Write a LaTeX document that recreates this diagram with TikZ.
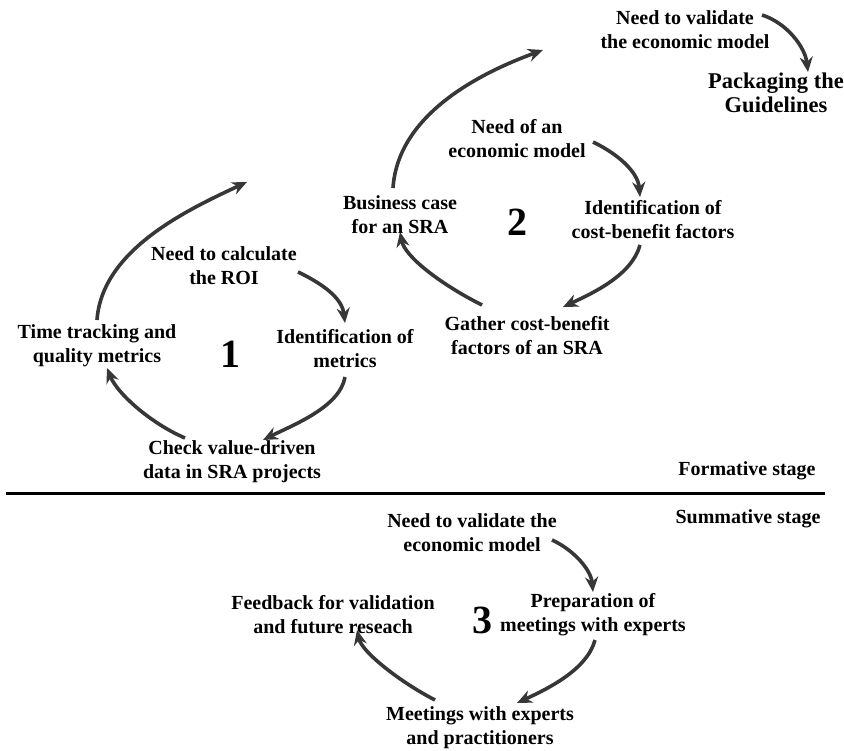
\documentclass[tikz,border=0pt]{standalone}
\usepackage{fontspec}
\setmainfont{Liberation Serif}
\usetikzlibrary{arrows.meta}
\definecolor{arrowgray}{RGB}{55,55,55}
\begin{document}
\begin{tikzpicture}[x=1pt,y=-1pt,
  lbl/.style={align=center,inner sep=0pt,font=\bfseries\fontsize{20}{24}\selectfont},
  biglbl/.style={align=center,inner sep=0pt,font=\bfseries\fontsize{22.5}{24}\selectfont},
  num/.style={inner sep=0pt,font=\bfseries\fontsize{40}{40}\selectfont},
  cyc/.style={draw=arrowgray,line width=3.6pt,-{Stealth[length=15pt,width=13pt]}}]
\useasboundingbox (0,0) rectangle (844,751);
% Cycle 1
\node[lbl] (n1a) at (224,266) {Need to calculate\\the ROI};
\node[lbl] (n1b) at (345,349) {Identification of\\metrics};
\node[lbl] (n1c) at (232,462) {Check value-driven\\data in SRA projects};
\node[lbl] (n1d) at (97,346) {Time tracking and\\quality metrics};
\node[num] (c1) at (230,354) {1};
\coordinate (a1s) at (298,272); \coordinate (a1e) at (345,323);
\coordinate (a2s) at (345,377); \coordinate (a2e) at (263,440);
\coordinate (a3s) at (185,438); \coordinate (a3e) at (107,368);
\coordinate (a4s) at (97,320);  \coordinate (a4e) at (247,182);
\draw[cyc] (a1s) .. controls +(25,12) and +(-3,-25) .. (a1e);
\draw[cyc] (a2s) .. controls +(-5,30) and +(30,-15) .. (a2e);
\draw[cyc] (a3s) .. controls +(-35,-15) and +(10,25) .. (a3e);
\draw[cyc] (a4s) .. controls +(5,-70) and +(-60,28) .. (a4e);
% Cycle 2
\node[lbl] (n2a) at (517,139) {Need of an\\economic model};
\node[lbl] (n2b) at (653,220) {Identification of\\cost-benefit factors};
\node[lbl] (n2c) at (527,336) {Gather cost-benefit\\factors of an SRA};
\node[lbl] (n2d) at (400,215) {Business case\\for an SRA};
\node[num] (c2) at (517,222) {2};
\node[lbl] (n2e) at (685,30) {Need to validate\\the economic model};
\node[biglbl] (n2f) at (776,93) {Packaging the\\Guidelines};
\coordinate (b1s) at (593,142); \coordinate (b1e) at (640,197);
\coordinate (b2s) at (640,245); \coordinate (b2e) at (563,307);
\coordinate (b3s) at (482,305); \coordinate (b3e) at (400,232);
\coordinate (b4s) at (393,188); \coordinate (b4e) at (543,50);
\coordinate (b5s) at (762,15);  \coordinate (b5e) at (808,72);
\draw[cyc] (b1s) .. controls +(25,12) and +(-2,-25) .. (b1e);
\draw[cyc] (b2s) .. controls +(-8,30) and +(30,-14) .. (b2e);
\draw[cyc] (b3s) .. controls +(-40,-20) and +(5,25) .. (b3e);
\draw[cyc] (b4s) .. controls +(5,-75) and +(-60,22) .. (b4e);
\draw[cyc] (b5s) .. controls +(25,8) and +(-3,-25) .. (b5e);
% Divider
\coordinate (ls) at (6,493); \coordinate (le) at (825,493);
\draw[line width=3pt] (ls) -- (le);
\node[lbl] (fs) at (747,471) {Formative stage};
\node[lbl] (ss) at (748,519) {Summative stage};
% Cycle 3
\node[lbl] (n3a) at (472,533) {Need to validate the\\economic model};
\node[lbl] (n3b) at (593,615) {Preparation of\\meetings with experts};
\node[lbl] (n3c) at (480,728) {Meetings with experts\\and practitioners};
\node[lbl] (n3d) at (333,615) {Feedback for validation\\and future reseach};
\node[num] (c3) at (482,620) {3};
\coordinate (c1s) at (552,540); \coordinate (c1e) at (593,592);
\coordinate (c2s) at (595,640); \coordinate (c2e) at (517,703);
\coordinate (c3s) at (435,700); \coordinate (c3e) at (357,630);
\draw[cyc] (c1s) .. controls +(22,10) and +(-2,-22) .. (c1e);
\draw[cyc] (c2s) .. controls +(-8,30) and +(30,-14) .. (c2e);
\draw[cyc] (c3s) .. controls +(-35,-18) and +(5,22) .. (c3e);
\end{tikzpicture}
\end{document}
